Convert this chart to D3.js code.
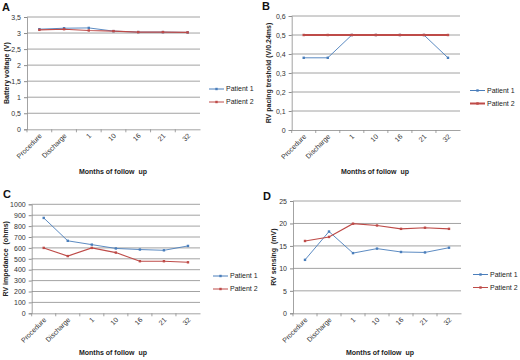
<!DOCTYPE html>
<html><head><meta charset="utf-8">
<script src="https://cdn.jsdelivr.net/npm/d3@7"></script>
<style>
html,body{margin:0;padding:0;background:#fff;}
svg{display:block;font-family:"Liberation Sans",Arial,sans-serif;}
</style></head>
<body>
<svg id="c" width="520" height="360"></svg>
<script>
const categories = ["Procedure","Discharge","1","10","16","21","32"];
const seriesNames = ["Patient 1","Patient 2"];
const batteryP1 = [3.12,3.15,3.16,3.06,3.03,3.03,3.02];
const batteryP2 = [3.10,3.12,3.08,3.06,3.03,3.03,3.02];
const batteryTicks = [0,0.5,1,1.5,2,2.5,3,3.5];
const pacingP1 = [0.38,0.38,0.5,0.5,0.5,0.5,0.38];
const pacingP2 = [0.5,0.5,0.5,0.5,0.5,0.5,0.5];
const pacingTicks = [0,0.1,0.2,0.3,0.4,0.5,0.6];
const impedanceP1 = [875,665,630,595,585,578,618];
const impedanceP2 = [600,525,600,557,478,478,468];
const impedanceTicks = [0,100,200,300,400,500,600,700,800,900,1000];
const sensingP1 = [11.9,18.2,13.4,14.4,13.65,13.55,14.6];
const sensingP2 = [16.1,17.0,19.95,19.55,18.8,19.05,18.8];
const sensingTicks = [0,5,10,15,20,25];

const colors = ["#4a7ebb","#be4b48"];
const svg = d3.select("#c");
const fmtComma = d => String(d).replace(".", ",");

const panels = [
  {label:"A", lx:2, ly:11, box:[27,200,17,129.3], ticks:batteryTicks, data:[batteryP1,batteryP2],
   ytitle:"Battery voltage (V)", ytx:7, xtx:113, xty:174, leg:[209,89], fmt:fmtComma, w2:1},
  {label:"B", lx:262, ly:10, box:[291.7,460,16,130], ticks:pacingTicks, data:[pacingP1,pacingP2],
   ytitle:"RV pacing treshold (V/0.24ms)", ytx:269, xtx:375, xty:174, leg:[470,90.5], fmt:fmtComma, w2:2},
  {label:"C", lx:3, ly:198, box:[31.7,200,204.3,313.3], ticks:impedanceTicks, data:[impedanceP1,impedanceP2],
   ytitle:"RV impedance  (ohms)", ytx:6, xtx:113, xty:355, leg:[213,276], fmt:d=>String(d), w2:1},
  {label:"D", lx:263, ly:200, box:[293,461,201,313.3], ticks:sensingTicks, data:[sensingP1,sensingP2],
   ytitle:"RV sensing  (mV)", ytx:274, xtx:380, xty:355, leg:[473,274.5], fmt:d=>String(d), w2:1}
];

panels.forEach(p => {
  const [x0,x1,y0,y1] = p.box;
  const g = svg.append("g");
  const x = d3.scaleBand().domain(categories).range([x0,x1]);
  const y = d3.scaleLinear().domain([p.ticks[0], p.ticks[p.ticks.length-1]]).range([y1,y0]);

  // gridlines
  g.append("g").selectAll("line").data(p.ticks.slice(1)).join("line")
    .attr("x1",x0).attr("x2",x1).attr("y1",d=>y(d)).attr("y2",d=>y(d))
    .attr("stroke","#8c8c8c").attr("stroke-width",0.8);

  // y axis
  const ya = g.append("g").attr("transform",`translate(${x0},0)`)
    .call(d3.axisLeft(y).tickValues(p.ticks).tickFormat(p.fmt).tickSize(3).tickPadding(3));
  ya.select(".domain").attr("stroke","#8c8c8c").attr("stroke-width",0.8);
  ya.selectAll(".tick line").attr("stroke","#8c8c8c");
  ya.selectAll("text").attr("font-size",7).attr("fill","#333");

  // x axis
  const xa = g.append("g").attr("transform",`translate(0,${y1})`)
    .call(d3.axisBottom(x).tickSize(0).tickPadding(0));
  xa.select(".domain").attr("stroke","#8c8c8c").attr("stroke-width",0.8);
  xa.selectAll(".tick text").attr("font-size",7).attr("fill","#333")
    .attr("text-anchor","end").attr("dy",null).attr("y",0)
    .attr("transform","translate(3,7) rotate(-45)");
  // category tick marks (between bands)
  g.append("g").selectAll("line").data(categories).join("line")
    .attr("x1",d=>x(d)).attr("x2",d=>x(d)).attr("y1",y1).attr("y2",y1+3)
    .attr("stroke","#8c8c8c").attr("stroke-width",0.8);

  // lines
  const line = d3.line().x((d,i)=>x(categories[i])+x.bandwidth()/2).y(d=>y(d));
  p.data.forEach((vals,si) => {
    g.append("path").datum(vals).attr("d",line).attr("fill","none")
      .attr("stroke",colors[si]).attr("stroke-width", si===1 ? (p.w2===2?2.2:1.1) : 0.9);
    const m = g.append("g").selectAll("rect").data(vals).join("rect")
      .attr("x",(d,i)=>x(categories[i])+x.bandwidth()/2-1.2)
      .attr("y",d=>y(d)-1.2).attr("width",2.4).attr("height",2.4)
      .attr("fill",colors[si]);
  });

  // titles
  g.append("text").attr("x",p.lx).attr("y",p.ly).text(p.label)
    .attr("font-size",11).attr("font-weight","bold").attr("fill","#111");
  g.append("text").attr("transform",`translate(${p.ytx},${(y0+y1)/2}) rotate(-90)`)
    .attr("text-anchor","middle").attr("dy","0.35em").attr("font-size",7).attr("font-weight","bold")
    .attr("fill","#222").style("white-space","pre").text(p.ytitle);
  g.append("text").attr("x",p.xtx).attr("y",p.xty).attr("text-anchor","middle")
    .attr("font-size",7).attr("font-weight","bold").attr("fill","#222")
    .style("white-space","pre").text("Months of follow  up");

  // legend
  seriesNames.forEach((name,si) => {
    const ly = p.leg[1] + si*13;
    g.append("line").attr("x1",p.leg[0]).attr("x2",p.leg[0]+15).attr("y1",ly).attr("y2",ly)
      .attr("stroke",colors[si]).attr("stroke-width",si===1 && p.w2===2 ? 2 : 1);
    g.append("rect").attr("x",p.leg[0]+7.5-1.2).attr("y",ly-1.2).attr("width",2.4).attr("height",2.4)
      .attr("fill",colors[si]);
    g.append("text").attr("x",p.leg[0]+17).attr("y",ly).attr("dy","0.35em")
      .attr("font-size",7).attr("fill","#222").text(name);
  });
});
</script>
</body></html>
